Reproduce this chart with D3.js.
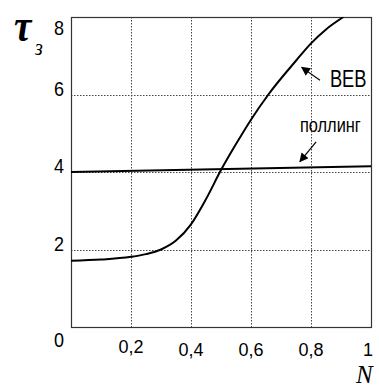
<!DOCTYPE html>
<html>
<head>
<meta charset="utf-8">
<script src="https://cdn.jsdelivr.net/npm/d3@7"></script>
<style>
  html, body { margin: 0; padding: 0; background: #fff; }
  svg { display: block; }
</style>
</head>
<body>
<svg id="chart" width="379" height="387"></svg>
<script>
// Relaxation time τз versus fraction N, two models
const bebN   = [0, 0.1, 0.2, 0.25, 0.3, 0.35, 0.4, 0.45, 0.5, 0.55, 0.6, 0.658, 0.752, 0.8, 0.85, 0.908];
const bebTau = [1.71, 1.74, 1.81, 1.88, 2.0, 2.23, 2.65, 3.3, 4.05, 4.72, 5.35, 6.0, 6.89, 7.32, 7.68, 8.0];
const pollN   = [0, 1];
const pollTau = [4.0, 4.15];

const xTicks = [0.2, 0.4, 0.6, 0.8, 1];
const xTickLabels = ["0,2", "0,4", "0,6", "0,8", "1"];
const yTicks = [0, 2, 4, 6, 8];
const yTickLabels = ["0", "2", "4", "6", "8"];

const svg = d3.select("#chart");
const pLeft = 71, pRight = 371, pTop = 17, pBottom = 327;

const x = d3.scaleLinear().domain([0, 1]).range([pLeft, pRight]);
const y = d3.scaleLinear().domain([0, 8]).range([pBottom, pTop]);

const labelFont = "'Liberation Sans', Arial, sans-serif";
const serif = "'Liberation Serif', 'Times New Roman', serif";

const defs = svg.append("defs");
defs.append("clipPath").attr("id", "plot")
  .append("rect").attr("x", pLeft).attr("y", pTop)
  .attr("width", pRight - pLeft).attr("height", pBottom - pTop);

defs.append("marker").attr("id", "head")
  .attr("viewBox", "0 0 10 10").attr("refX", 9).attr("refY", 5)
  .attr("markerWidth", 11).attr("markerHeight", 9)
  .attr("markerUnits", "userSpaceOnUse")
  .attr("orient", "auto")
  .append("path").attr("d", "M0,0 L10,5 L0,10 Z").attr("fill", "#000");

// dotted grid
const grid = svg.append("g").attr("stroke", "#444").attr("stroke-width", 1)
  .attr("stroke-dasharray", "1.5,1.5").attr("fill", "none");
grid.selectAll("line.v").data(xTicks.filter(d => d < 1)).join("line")
  .attr("class", "v")
  .attr("x1", d => Math.round(x(d)) + 0.5).attr("x2", d => Math.round(x(d)) + 0.5)
  .attr("y1", pTop).attr("y2", pBottom);
grid.selectAll("line.h").data(yTicks.filter(d => d > 0 && d < 8)).join("line")
  .attr("class", "h")
  .attr("x1", pLeft).attr("x2", pRight)
  .attr("y1", d => Math.round(y(d)) + 0.5).attr("y2", d => Math.round(y(d)) + 0.5);

// frame
svg.append("rect")
  .attr("x", pLeft + 0.5).attr("y", pTop + 0.5)
  .attr("width", pRight - pLeft).attr("height", pBottom - pTop)
  .attr("fill", "none").attr("stroke", "#333").attr("stroke-width", 1.2);

// curves
const line = d3.line().x(d => x(d[0])).y(d => y(d[1])).curve(d3.curveMonotoneX);
const curves = svg.append("g").attr("clip-path", "url(#plot)")
  .attr("fill", "none").attr("stroke", "#000").attr("stroke-width", 2);
curves.append("path").attr("d", line(d3.zip(bebN, bebTau)));
curves.append("path").attr("d", line(d3.zip(pollN, pollTau)));

// tick labels
const xBase = [353, 356, 356, 356, 356];
svg.append("g").selectAll("text").data(xTicks).join("text")
  .attr("x", d => x(d) + (d === 1 ? -3 : 0))
  .attr("y", (d, i) => xBase[i])
  .attr("text-anchor", "middle")
  .attr("font-family", labelFont).attr("font-size", 18)
  .text((d, i) => xTickLabels[i]);

svg.append("g").selectAll("text").data(yTicks).join("text")
  .attr("transform", d => {
    const base = d === 8 ? 35 : d === 0 ? 347 : Math.round(y(d)) + 0.5;
    return `translate(59,${base}) scale(1,1.17)`;
  })
  .attr("text-anchor", "middle")
  .attr("font-family", labelFont).attr("font-size", 18)
  .text((d, i) => yTickLabels[i]);

// axis titles
svg.append("text")
  .attr("transform", "translate(14,41) scale(0.85,1)")
  .attr("font-family", serif).attr("font-style", "italic").attr("font-weight", "bold")
  .attr("font-size", 46).text("τ");
svg.append("text")
  .attr("transform", "translate(35,55) scale(1,1.2)")
  .attr("font-family", serif).attr("font-style", "italic")
  .attr("font-size", 20).text("з");

svg.append("text").attr("x", 356).attr("y", 383)
  .attr("font-family", serif).attr("font-style", "italic")
  .attr("font-size", 25).text("N");

// annotations with arrows
function arrow(x1, y1, x2, y2) {
  svg.append("line")
    .attr("x1", x(x1)).attr("y1", y(y1)).attr("x2", x(x2)).attr("y2", y(y2))
    .attr("stroke", "#000").attr("stroke-width", 1.2)
    .attr("marker-end", "url(#head)");
}
arrow(0.83, 6.37, 0.769, 6.70);
arrow(0.817, 4.78, 0.763, 4.27);

svg.append("text")
  .attr("transform", `translate(${x(0.863)},${y(6.19)}) scale(0.78,1)`)
  .attr("font-family", labelFont).attr("font-size", 23.5)
  .text("ВЕВ");
svg.append("text")
  .attr("transform", `translate(${x(0.763)},${y(5.045)}) scale(0.78,1)`)
  .attr("font-family", labelFont).attr("font-size", 21)
  .text("поллинг");
</script>
</body>
</html>
